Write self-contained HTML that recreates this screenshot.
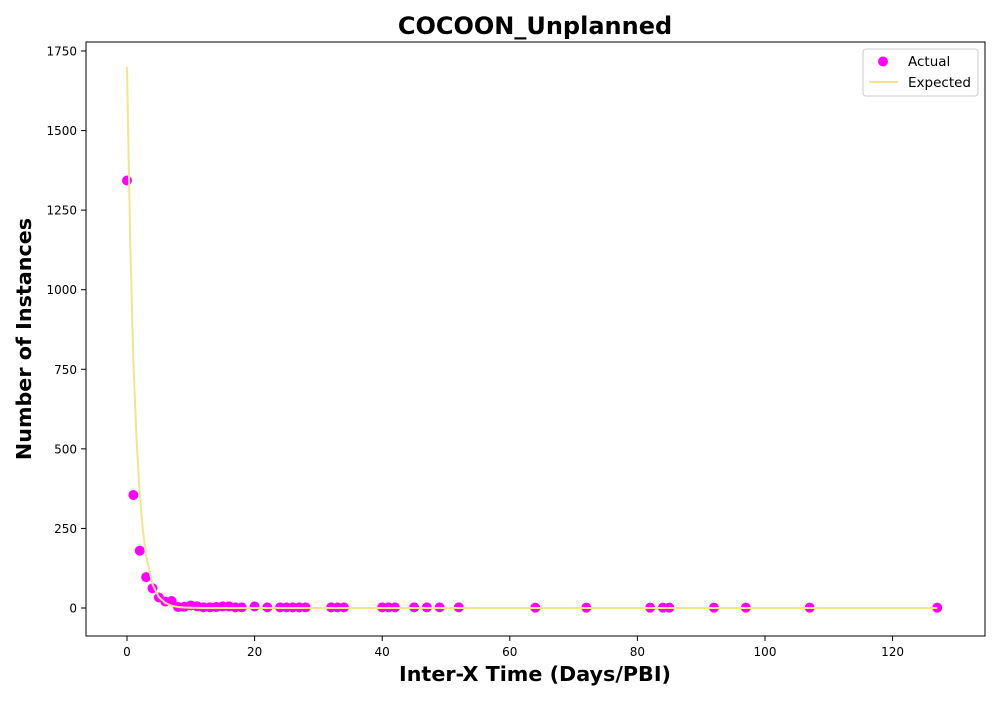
<!DOCTYPE html>
<html><head><meta charset="utf-8"><style>
body{margin:0;background:#fff;}
svg text{font-family:"DejaVu Sans","Liberation Sans",sans-serif;}
</style></head><body>
<svg id="chart" width="1000" height="700" xmlns="http://www.w3.org/2000/svg">
<rect width="1000" height="700" fill="#fff"/>
<text x="535" y="34" text-anchor="middle" font-size="24" font-weight="bold">COCOON_Unplanned</text>
<text x="535" y="681" text-anchor="middle" font-size="20.7" font-weight="bold">Inter-X Time (Days/PBI)</text>
<text transform="translate(31,339) rotate(-90)" text-anchor="middle" font-size="20.7" font-weight="bold">Number of Instances</text>
<g id="plot"></g>
<rect x="86" y="42" width="899" height="594" fill="none" stroke="#000" stroke-width="1"/>
<g>
<rect x="863" y="49" width="115" height="47" fill="#fff" stroke="#ccc" rx="3"/>
<circle cx="883" cy="61.5" r="5" fill="#ff00ff"/>
<text x="908" y="66" font-size="13.5">Actual</text>
<line x1="869" y1="82" x2="898" y2="82" stroke="#f0e68c" stroke-width="2"/>
<text x="908" y="87" font-size="13.5">Expected</text>
</g>
</svg>
<script>
const actualX=[0,1,2,3,4,5,6,7,8,9,10,11,12,13,14,15,16,17,18,20,22,24,25,26,27,28,32,33,34,40,41,42,45,47,49,52,64,72,82,84,85,92,97,107,127];
const actualY=[1343,355,180,97,62,33,20,22,3,4,8,5,2,2,3,5,5,2,2,5,2,2,2,2,2,2,2,2,2,2,2,2,2,2,2,2,1,1,1,1,1,1,1,1,1];
const expectedX=[0,0.5,1,1.5,2,2.5,3,4,5,6,7,8,9,10,12,15,20,127];
const expectedY=[1700,1150,777,526,356,241,163,74,34,16,7,3,1.5,0.7,0.1,0,0,0];
const xTicks=[0,20,40,60,80,100,120];
const yTicks=[0,250,500,750,1000,1250,1500,1750];
const NS="http://www.w3.org/2000/svg";
const xs=v=>127+(v)*6.38;
const ys=v=>608-v*0.3183;
const g=document.getElementById('plot');
function mk(t,a){const e=document.createElementNS(NS,t);for(const k in a)e.setAttribute(k,a[k]);return e;}
xTicks.forEach(t=>{
 const l=mk('line',{x1:xs(t),x2:xs(t),y1:636,y2:641,stroke:'#000'});
 
 
 g.appendChild(l);
 const tx=mk('text',{x:xs(t),y:656,'text-anchor':'middle','font-size':12});tx.textContent=t;
 
 
 g.appendChild(tx);
});
yTicks.forEach(t=>{
 const l=mk('line',{x1:81,x2:86,y1:ys(t),y2:ys(t),stroke:'#000'});
 
 
 g.appendChild(l);
 const tx=mk('text',{x:77,y:ys(t)+4.5,'text-anchor':'end','font-size':12});tx.textContent=t;
 
 
 g.appendChild(tx);
});
actualX.forEach((x,i)=>{
 const c=mk('circle',{cx:xs(x),cy:ys(actualY[i]),r:5,fill:'#ff00ff'});
 
 
 g.appendChild(c);
});
const p=mk('polyline',{points:expectedX.map((x,i)=>xs(x)+','+ys(expectedY[i])).join(' '),fill:'none',stroke:'#f0e68c','stroke-width':2});


g.appendChild(p);
</script>
</body></html>
